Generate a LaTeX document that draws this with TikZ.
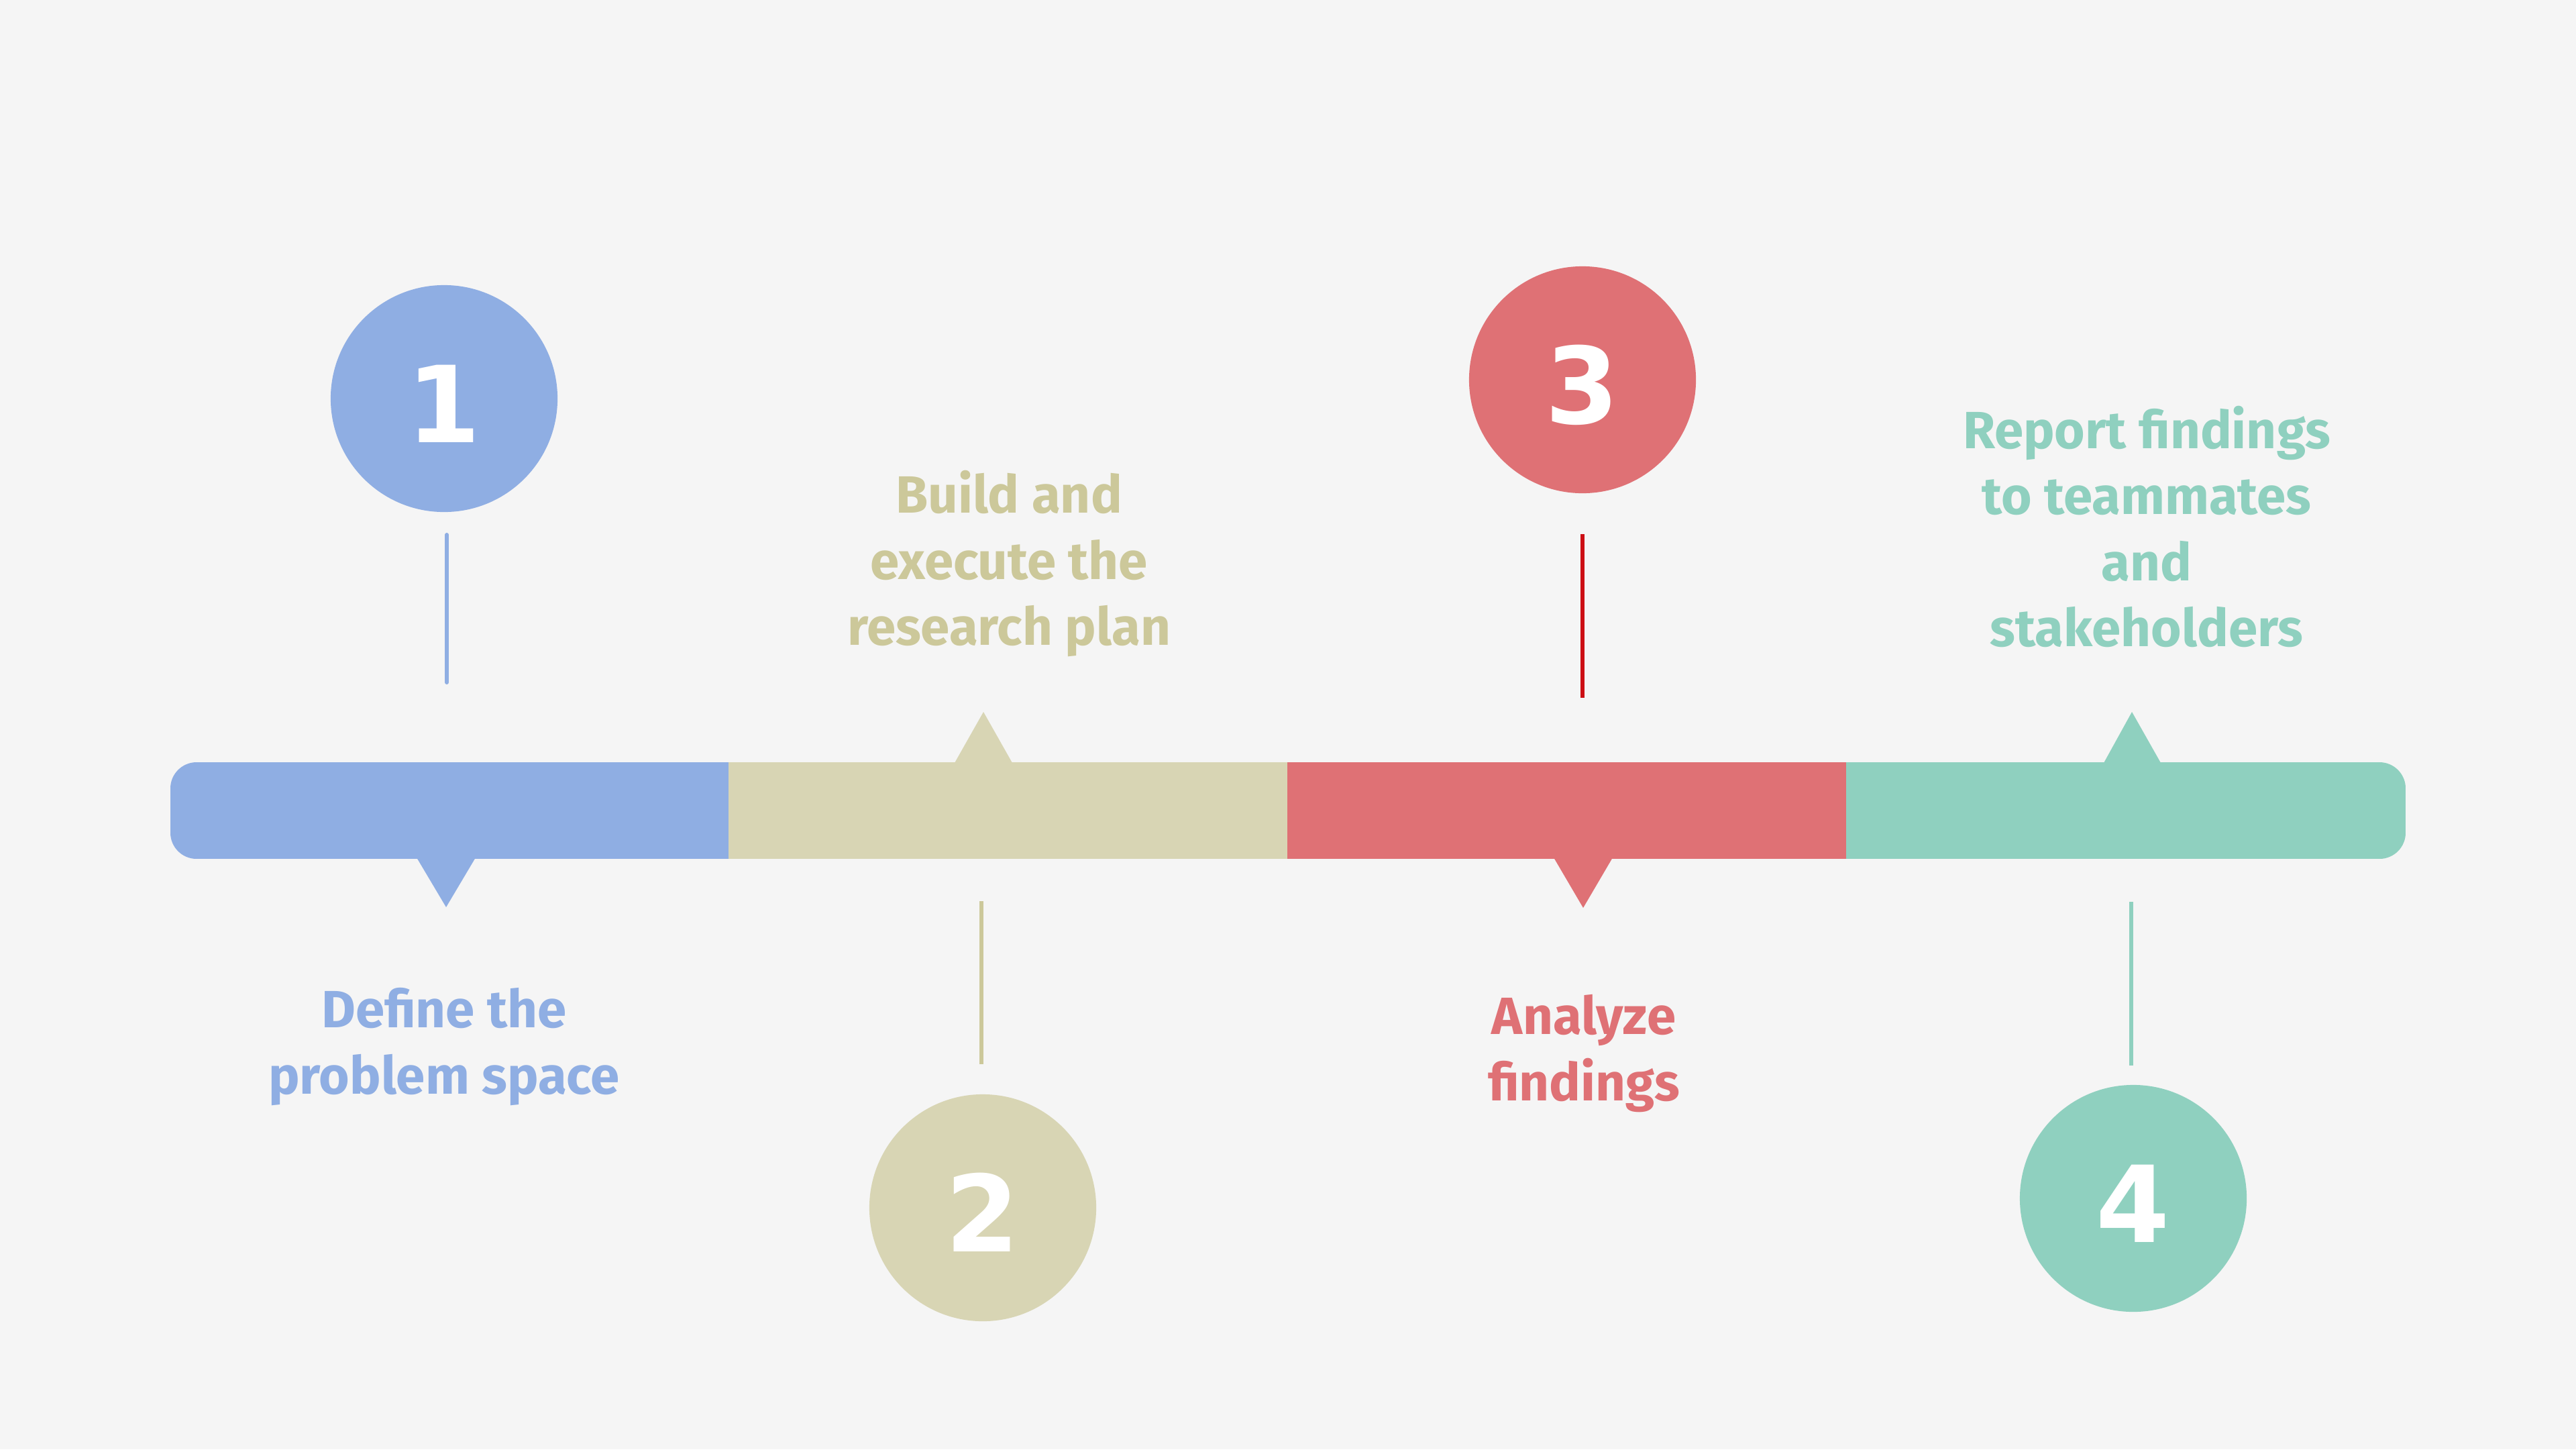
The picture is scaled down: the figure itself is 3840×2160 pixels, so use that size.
\documentclass[tikz,border=0pt]{standalone}
\usepackage{fontspec}
\setmainfont{Fira Sans}
\newfontfamily\digitfont{DejaVu Sans}

\definecolor{pagebg}{HTML}{F5F5F5}
\definecolor{stepblue}{HTML}{8FAEE3}
\definecolor{stepkhaki}{HTML}{D8D5B4}
\definecolor{khakitext}{HTML}{CCC89A}
\definecolor{stepred}{HTML}{DF7175}
\definecolor{stickred}{HTML}{CC0E14}
\definecolor{stepteal}{HTML}{8FD0BF}

\begin{document}
\begin{tikzpicture}[x=0.01cm,y=-0.01cm,
  stepcircle/.style={circle, inner sep=0pt, minimum size=3.38cm,
    text height=1.31cm, text depth=0pt,
    font=\digitfont\bfseries\fontsize{45}{45}\selectfont, text=white},
  steplabel/.style={align=center, inner sep=0pt,
    font=\bfseries\fontsize{22.2}{27.9}\selectfont},
  stick/.style={line width=1.7pt},
  segment/.style={rectangle, inner sep=0pt, minimum width=8.34cm, minimum height=1.44cm}]

% canvas
\fill[pagebg] (0,0) rectangle (3840,2160);
\useasboundingbox (0,0) rectangle (3840,2160);

% the timeline bar, four equal segments with rounded outer ends
\begin{scope}
  \clip[rounded corners=0.39cm] (254,1136) rectangle (3586,1280);
  \node[segment, fill=stepblue]  (seg1) at (670.5,1208) {};
  \node[segment, fill=stepkhaki] (seg2) at (1503.5,1208) {};
  \node[segment, fill=stepred]   (seg3) at (2336.5,1208) {};
  \node[segment, fill=stepteal]  (seg4) at (3169.5,1208) {};
\end{scope}

% pointers on the bar
\fill[stepblue]  (621,1278) -- (709,1278) -- (665,1352) -- cycle;
\fill[stepkhaki] (1423,1137) -- (1509,1137) -- (1466,1061) -- cycle;
\fill[stepred]   (2316,1278) -- (2404,1278) -- (2360,1353) -- cycle;
\fill[stepteal]  (3136,1137) -- (3221,1137) -- (3178,1061) -- cycle;

% numbered circles
\node[stepcircle, fill=stepblue]  (c1) at (662,594)   {1};
\node[stepcircle, fill=stepkhaki] (c2) at (1465,1800) {2};
\node[stepcircle, fill=stepred]   (c3) at (2359,566)  {3};
\node[stepcircle, fill=stepteal]  (c4) at (3180,1786) {4};

% sticks between circles and bar
\coordinate (s1a) at (666,797);   \coordinate (s1b) at (666,1017);
\coordinate (s2a) at (1463,1343); \coordinate (s2b) at (1463,1586);
\coordinate (s3a) at (2359,796);  \coordinate (s3b) at (2359,1040);
\coordinate (s4a) at (3177,1344); \coordinate (s4b) at (3177,1588);
\draw[stick, stepblue, line cap=round] (s1a) -- (s1b);
\draw[stick, khakitext] (s2a) -- (s2b);
\draw[stick, stickred] (s3a) -- (s3b);
\draw[stick, stepteal] (s4a) -- (s4b);

% step labels
\node[steplabel, text=stepblue]  (t1) at (662,1560)  {Define the\\problem space};
\node[steplabel, text=khakitext] (t2) at (1504,840)  {Build and\\execute the\\research plan};
\node[steplabel, text=stepred]   (t3) at (2361,1570) {Analyze\\findings};
\node[steplabel, text=stepteal]  (t4) at (3200,785)  {Report findings\\to teammates\\and\\stakeholders};

\end{tikzpicture}
\end{document}
